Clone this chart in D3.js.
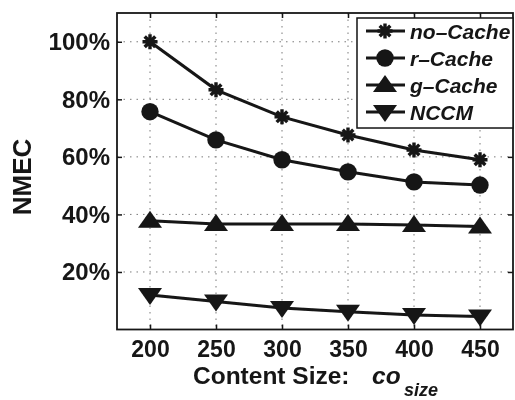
<!DOCTYPE html>
<html>
<head>
<meta charset="utf-8">
<script src="https://cdn.jsdelivr.net/npm/d3@7"></script>
<style>
  html, body { margin: 0; padding: 0; background: #fff; }
  svg { display: block; font-family: "Liberation Sans", Arial, sans-serif; }
</style>
</head>
<body>
<svg id="chart" width="515" height="400"></svg>
<script>
// Content size values on the x axis
const contentSizes = [200, 250, 300, 350, 400, 450];
// NMEC (%) for each caching scheme
const noCache = [100, 83.3, 73.9, 67.6, 62.4, 59.0];
const rCache  = [75.7, 65.9, 59.0, 54.8, 51.3, 50.2];
const gCache  = [37.8, 36.7, 36.7, 36.7, 36.3, 35.8];
const nccm    = [12.0, 9.7, 7.5, 6.2, 5.0, 4.5];
const seriesNames = ["no\u2013Cache", "r\u2013Cache", "g\u2013Cache", "NCCM"];
const markerTypes = ["star", "circle", "up", "down"];
const yTicks = [20, 40, 60, 80, 100];

const series = [noCache, rCache, gCache, nccm].map((vals, i) => ({
  name: seriesNames[i], marker: markerTypes[i],
  points: vals.map((v, j) => ({ x: contentSizes[j], y: v }))
}));

const svg = d3.select("#chart");
const plotLeft = 117, plotRight = 513, plotTop = 13, plotBottom = 329.5;
const ink = "#151515";

const x = d3.scaleLinear().domain([175, 475]).range([plotLeft, plotRight]);
const y = d3.scaleLinear().domain([0, 110]).range([plotBottom, plotTop]);

const defs = svg.append("defs");
defs.append("filter").attr("id", "soft")
  .append("feGaussianBlur").attr("stdDeviation", 0.6);

const g = svg.append("g").attr("filter", "url(#soft)");

// dotted grid
const grid = g.append("g").attr("stroke", "#444").attr("stroke-width", 1)
  .attr("stroke-dasharray", "1.5,5").attr("opacity", 0.7);
grid.selectAll("line.v").data(contentSizes).join("line").attr("class", "v")
  .attr("x1", d => x(d)).attr("x2", d => x(d)).attr("y1", plotTop).attr("y2", plotBottom);
grid.selectAll("line.h").data(yTicks).join("line").attr("class", "h")
  .attr("x1", plotLeft).attr("x2", plotRight).attr("y1", d => y(d)).attr("y2", d => y(d));

// axes with inward ticks on all four sides
const tickLen = 5;
const xAxisB = d3.axisBottom(x).tickValues(contentSizes).tickSizeInner(-tickLen).tickSizeOuter(0).tickPadding(11);
const xAxisT = d3.axisTop(x).tickValues(contentSizes).tickSizeInner(-tickLen).tickSizeOuter(0).tickFormat("");
const yAxisL = d3.axisLeft(y).tickValues(yTicks).tickSizeInner(-tickLen).tickSizeOuter(0).tickPadding(7).tickFormat(d => d + "%");
const yAxisR = d3.axisRight(y).tickValues(yTicks).tickSizeInner(-tickLen).tickSizeOuter(0).tickFormat("");

function styleAxis(sel, size) {
  sel.selectAll("path").remove();
  sel.selectAll("line").attr("stroke", ink).attr("stroke-width", 1.5);
  sel.selectAll("text").attr("fill", ink).attr("font-size", size).attr("font-weight", "bold")
    .attr("font-family", "Liberation Sans, Arial, sans-serif");
}
g.append("g").attr("transform", `translate(0,${plotBottom})`).call(xAxisB).call(styleAxis, 23);
g.append("g").attr("transform", `translate(0,${plotTop})`).call(xAxisT).call(styleAxis, 23);
g.append("g").attr("transform", `translate(${plotLeft},0)`).call(yAxisL).call(styleAxis, 24);
g.append("g").attr("transform", `translate(${plotRight},0)`).call(yAxisR).call(styleAxis, 24);

// plot frame
g.append("rect").attr("x", plotLeft).attr("y", plotTop).attr("width", plotRight - plotLeft).attr("height", plotBottom - plotTop)
  .attr("fill", "none").attr("stroke", ink).attr("stroke-width", 1.8);

// marker drawing
function drawMarker(sel, type) {
  if (type === "circle") {
    sel.append("circle").attr("r", 8.7).attr("fill", ink);
  } else if (type === "up") {
    sel.append("path").attr("d", "M0,-10 L12,7 L-12,7 Z").attr("fill", ink);
  } else if (type === "down") {
    sel.append("path").attr("d", "M0,10 L12,-7 L-12,-7 Z").attr("fill", ink);
  } else {
    const r = 7.5;
    const d = [0, 45, 90, 135].map(a => {
      const t = a * Math.PI / 180;
      return `M${-r * Math.cos(t)},${-r * Math.sin(t)} L${r * Math.cos(t)},${r * Math.sin(t)}`;
    }).join(" ");
    sel.append("path").attr("d", d).attr("stroke", ink).attr("stroke-width", 3.4).attr("fill", "none");
  }
}

const line = d3.line().x(d => x(d.x)).y(d => y(d.y));
series.forEach(s => {
  g.append("path").datum(s.points).attr("d", line)
    .attr("fill", "none").attr("stroke", ink).attr("stroke-width", 3);
  g.append("g").selectAll("g").data(s.points).join("g")
    .attr("transform", d => `translate(${x(d.x)},${y(d.y)})`)
    .each(function () { drawMarker(d3.select(this), s.marker); });
});

// legend
const lg = g.append("g");
lg.append("rect").attr("x", 357).attr("y", 18).attr("width", plotRight - 357).attr("height", 110)
  .attr("fill", "#fff").attr("stroke", ink).attr("stroke-width", 1.5);
series.forEach((s, i) => {
  const cy = 31 + i * 27;
  lg.append("line").attr("x1", 366).attr("x2", 405).attr("y1", cy).attr("y2", cy)
    .attr("stroke", ink).attr("stroke-width", 3);
  const m = lg.append("g").attr("transform", `translate(385,${cy})`);
  drawMarker(m, s.marker);
  lg.append("text").attr("x", 410).attr("y", cy + 8).text(s.name)
    .attr("font-size", 21).attr("font-weight", "bold").attr("font-style", "italic").attr("fill", ink);
});

// axis titles
g.append("text").attr("transform", "translate(31,177) rotate(-90)").attr("text-anchor", "middle")
  .attr("font-size", 26).attr("font-weight", "bold").attr("fill", ink).text("NMEC");

const xt = g.append("text").attr("y", 384).attr("font-size", 24.5)
  .attr("font-weight", "bold").attr("fill", ink);
xt.append("tspan").attr("x", 193).text("Content Size:");
xt.append("tspan").attr("x", 372).attr("font-style", "italic").text("co");
xt.append("tspan").attr("x", 404).attr("font-style", "italic").attr("font-size", 18).attr("dy", 12).text("size");
</script>
</body>
</html>
